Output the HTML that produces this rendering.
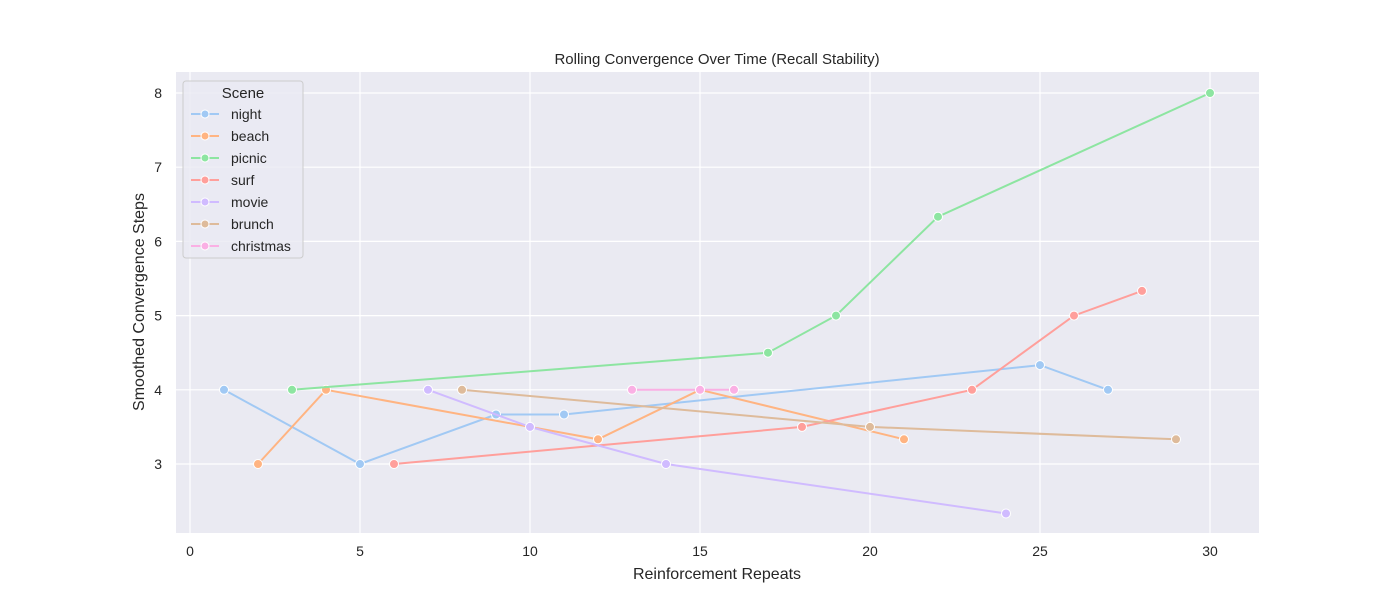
<!DOCTYPE html>
<html><head><meta charset="utf-8"><style>
body{margin:0;background:#fff;font-family:"Liberation Sans","DejaVu Sans",sans-serif;}
</style></head><body>
<svg id="chart" width="1400" height="600" xmlns="http://www.w3.org/2000/svg">
<rect x="176" y="72" width="1083" height="461" fill="#eaeaf2"/>
<g id="grid"></g><g id="series"></g><g id="ticks"></g>
<text x="717" y="64" text-anchor="middle" font-size="15" fill="#262626">Rolling Convergence Over Time (Recall Stability)</text>
<text x="717" y="579" text-anchor="middle" font-size="16" fill="#262626">Reinforcement Repeats</text>
<text transform="translate(144,302) rotate(-90)" text-anchor="middle" font-size="16" fill="#262626">Smoothed Convergence Steps</text>
<g id="legend">
<rect x="183" y="81" width="120" height="177" rx="3" fill="#eaeaf2" stroke="#cccccc" fill-opacity="0.8"/>
<text x="243" y="98" text-anchor="middle" font-size="15" fill="#262626">Scene</text>
</g>
</svg>
<script>
const categories=["night","beach","picnic","surf","movie","brunch","christmas"];
const colors=["#a1c9f4","#ffb482","#8de5a1","#ff9f9b","#d0bbff","#debb9b","#fab0e4"];
const nightX=[1,5,9,11,25,27], nightY=[4,3,3.667,3.667,4.333,4];
const beachX=[2,4,12,15,21], beachY=[3,4,3.333,4,3.333];
const picnicX=[3,17,19,22,30], picnicY=[4,4.5,5,6.333,8];
const surfX=[6,18,23,26,28], surfY=[3,3.5,4,5,5.333];
const movieX=[7,10,14,24], movieY=[4,3.5,3,2.333];
const brunchX=[8,20,29], brunchY=[4,3.5,3.333];
const christmasX=[13,15,16], christmasY=[4,4,4];
const xTicks=[0,5,10,15,20,25,30];
const yTicks=[3,4,5,6,7,8];
const seriesX=[nightX,beachX,picnicX,surfX,movieX,brunchX,christmasX];
const seriesY=[nightY,beachY,picnicY,surfY,movieY,brunchY,christmasY];
const NS="http://www.w3.org/2000/svg";
const xs=v=>190+v*34, ys=v=>464-(v-3)*74.2;
function mk(t,a,p){const e=document.createElementNS(NS,t);for(const k in a)e.setAttribute(k,a[k]);p.appendChild(e);return e;}
const grid=document.getElementById('grid'),ticks=document.getElementById('ticks'),ser=document.getElementById('series'),leg=document.getElementById('legend');
xTicks.forEach(t=>{const l=mk('line',{x1:xs(t),x2:xs(t),y1:72,y2:533,stroke:'#fff','stroke-width':1.2},grid);


const tx=mk('text',{x:xs(t),y:556,'text-anchor':'middle','font-size':14,fill:'#262626'},ticks);tx.textContent=t;

});
yTicks.forEach(t=>{const l=mk('line',{x1:176,x2:1259,y1:ys(t),y2:ys(t),stroke:'#fff','stroke-width':1.2},grid);


const tx=mk('text',{x:162,y:ys(t)+5,'text-anchor':'end','font-size':14,fill:'#262626'},ticks);tx.textContent=t;

});
categories.forEach((c,i)=>{const X=seriesX[i],Y=seriesY[i];
const g=mk('g',{},ser);


const pl=mk('polyline',{points:X.map((x,j)=>xs(x)+','+ys(Y[j])).join(' '),fill:'none',stroke:colors[i],'stroke-width':2},g);


X.forEach((x,j)=>{const p=mk('circle',{cx:xs(x),cy:ys(Y[j]),r:4.5,fill:colors[i],stroke:'#fff','stroke-width':1},g);

});
const ly=114+i*22;
const lg=mk('g',{},leg);


mk('line',{x1:191,x2:219,y1:ly,y2:ly,stroke:colors[i],'stroke-width':2},lg);
mk('circle',{cx:205,cy:ly,r:4,fill:colors[i],stroke:'#fff','stroke-width':1},lg);
const t=mk('text',{x:231,y:ly+5,'font-size':14,fill:'#262626'},lg);t.textContent=c;});
</script>
</body></html>
